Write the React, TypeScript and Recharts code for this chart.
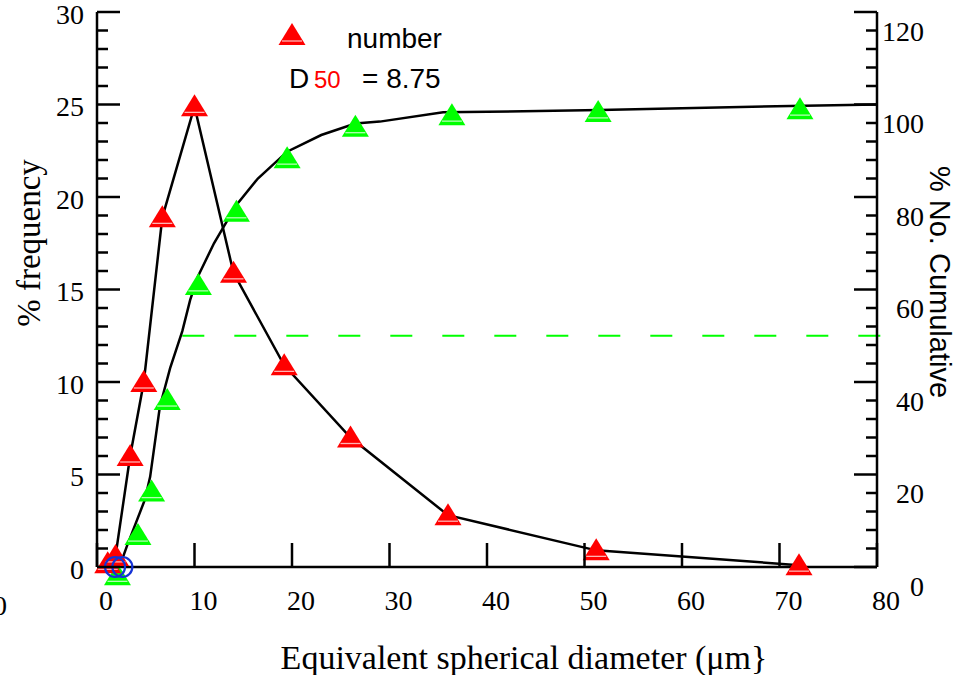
import React from 'react';
import { ComposedChart, Line, XAxis, YAxis, ReferenceLine, ReferenceDot } from 'recharts';

// tick values
const X_TICKS = [0, 10, 20, 30, 40, 50, 60, 70, 80];
const FREQ_TICKS = [0, 1, 2, 3, 4, 5, 6, 7, 8, 9, 10, 11, 12, 13, 14, 15, 16, 17, 18, 19, 20, 21, 22, 23, 24, 25, 26, 27, 28, 29, 30];
const CUM_TICKS = [0, 4, 8, 12, 16, 20, 24, 28, 32, 36, 40, 44, 48, 52, 56, 60, 64, 68, 72, 76, 80, 84, 88, 92, 96, 100, 104, 108, 112, 116, 120];

// % frequency (number), left axis
const numberFreq = [
  { x: 1.1, y: 0.2 },
  { x: 1.9, y: 0.6 },
  { x: 3.4, y: 6.0 },
  { x: 4.8, y: 10.0 },
  { x: 6.7, y: 18.9 },
  { x: 10.0, y: 24.9 },
  { x: 14.0, y: 15.9 },
  { x: 19.2, y: 10.9 },
  { x: 26.0, y: 7.0 },
  { x: 36.0, y: 2.8 },
  { x: 51.2, y: 0.9 },
  { x: 72.0, y: 0.1 },
];

// % No. cumulative, right axis
const cumulative = [
  { x: 2.1, y: -1.8 },
  { x: 4.2, y: 6.9 },
  { x: 5.6, y: 16.3 },
  { x: 7.2, y: 36.1 },
  { x: 10.4, y: 61.0 },
  { x: 14.3, y: 76.8 },
  { x: 19.5, y: 88.4 },
  { x: 26.5, y: 95.2 },
  { x: 36.4, y: 97.7 },
  { x: 51.4, y: 98.4 },
  { x: 72.1, y: 99.0 },
];

// fitted cumulative curve
const cumulativeFit = [
  { x: 2.3, y: 0 },
  { x: 3.05, y: 4.4 },
  { x: 4.9, y: 14.5 },
  { x: 5.45, y: 19.5 },
  { x: 6.45, y: 34.7 },
  { x: 7.5, y: 43.0 },
  { x: 8.75, y: 51.0 },
  { x: 9.55, y: 57.7 },
  { x: 10.35, y: 62.8 },
  { x: 12.0, y: 70.0 },
  { x: 14.3, y: 78.3 },
  { x: 16.5, y: 84.0 },
  { x: 19.5, y: 89.8 },
  { x: 23.0, y: 93.4 },
  { x: 26.5, y: 95.9 },
  { x: 29.0, y: 96.3 },
  { x: 35.5, y: 98.3 },
  { x: 51.6, y: 98.8 },
  { x: 71.1, y: 99.7 },
  { x: 80.0, y: 100 },
];

// blue open circles
const circles = [
  { x: 1.85, y: 0 },
  { x: 2.6, y: 0 },
];

const D50 = 8.75;
const D50_LEVEL = 50;
const D50_LINE_END = 80.8;

const X_TITLE = 'Equivalent spherical diameter (μm}';

const PL = 97;
const PR = 877;
const PB = 567;
const SERIF = '"Liberation Serif", "Times New Roman", serif';
const SANS = '"Liberation Sans", Arial, sans-serif';

const Triangle = ({ cx, cy, fill, pale }: any) => {
  if (cx == null || cy == null) return null;
  return (
    <g>
      <polygon points={`${cx},${cy - 12} ${cx - 13.5},${cy + 10} ${cx + 13.5},${cy + 10}`} fill={fill} />
      <line x1={cx - 10} x2={cx + 10} y1={cy + 6} y2={cy + 6} stroke={pale} strokeWidth={1.3} />
    </g>
  );
};

const redDot = (p: any) => <Triangle key={`r${p.index}`} cx={p.cx} cy={p.cy} fill="#ff0000" pale="#ffb3b3" />;

const leftTick = ({ y, payload }: any) => {
  const major = payload.value % 5 === 0;
  return (
    <g>
      <line x1={PL} x2={PL + (major ? 23 : 11)} y1={y} y2={y} stroke="#000" strokeWidth={2.5} />
      {major && (
        <text x={84} y={y + 2} dy="0.35em" textAnchor="end" fontFamily={SERIF} fontSize={28} fill="#000">
          {payload.value}
        </text>
      )}
    </g>
  );
};

const rightTick = ({ y, payload }: any) => {
  const major = payload.value % 20 === 0;
  return (
    <g>
      <line x1={PR} x2={PR - (major ? 23 : 11)} y1={y} y2={y} stroke="#000" strokeWidth={2.5} />
      {major && (
        <text x={924} y={y + 19} dy="0.35em" textAnchor="end" fontFamily={SERIF} fontSize={28} fill="#000">
          {payload.value}
        </text>
      )}
    </g>
  );
};

const bottomTick = ({ x, payload }: any) => (
  <g>
    <line x1={x} x2={x} y1={PB} y2={PB - 24} stroke="#000" strokeWidth={2.5} />
    <text x={x + 9} y={600} dy="0.35em" textAnchor="middle" fontFamily={SERIF} fontSize={28} fill="#000">
      {payload.value}
    </text>
  </g>
);

const axisLine = { stroke: '#000', strokeWidth: 2.5 };

export default function App() {
  return (
    <div style={{ position: 'absolute', left: 0, top: 0, width: 965, height: 675, background: '#fff' }}>
      <ComposedChart width={965} height={675} margin={{ top: 12, right: 0, bottom: 0, left: 0 }}>
        <XAxis
          xAxisId="x"
          dataKey="x"
          type="number"
          domain={[0, 80]}
          ticks={X_TICKS}
          interval={0}
          height={108}
          axisLine={axisLine}
          tickLine={false}
          tick={bottomTick}
        />
        <XAxis xAxisId="top" orientation="top" type="number" domain={[0, 80]} height={0} tick={false} tickLine={false} axisLine={axisLine} />
        <YAxis
          yAxisId="L"
          type="number"
          domain={[0, 30]}
          ticks={FREQ_TICKS}
          interval={0}
          width={97}
          axisLine={axisLine}
          tickLine={false}
          tick={leftTick}
        />
        <YAxis
          yAxisId="R"
          orientation="right"
          type="number"
          domain={[0, 120]}
          ticks={CUM_TICKS}
          interval={0}
          width={88}
          axisLine={axisLine}
          tickLine={false}
          tick={rightTick}
        />
        <ReferenceLine
          xAxisId="x"
          yAxisId="R"
          segment={[{ x: D50, y: D50_LEVEL }, { x: D50_LINE_END, y: D50_LEVEL }]}
          stroke="#00ff00"
          strokeWidth={2}
          strokeDasharray="22 30"
          ifOverflow="visible"
        />
        {cumulative.map((p, i) => (
          <ReferenceDot
            key={`c${i}`}
            xAxisId="x"
            yAxisId="R"
            x={p.x}
            y={p.y}
            ifOverflow="visible"
            shape={(s: any) => <Triangle cx={s.cx} cy={s.cy} fill="#00ff00" pale="#b3ffb3" />}
          />
        ))}
        <Line
          xAxisId="x"
          yAxisId="R"
          data={cumulativeFit}
          dataKey="y"
          type="linear"
          stroke="#000"
          strokeWidth={2.5}
          dot={false}
          isAnimationActive={false}
        />
        <Line
          xAxisId="x"
          yAxisId="L"
          data={numberFreq}
          dataKey="y"
          type="linear"
          stroke="#000"
          strokeWidth={2.5}
          dot={redDot}
          isAnimationActive={false}
        />
        <Line
          xAxisId="x"
          yAxisId="L"
          data={circles}
          dataKey="y"
          stroke="none"
          dot={{ r: 10, fill: 'none', stroke: '#1533d6', strokeWidth: 2.2 }}
          isAnimationActive={false}
        />
      </ComposedChart>
      <svg width={965} height={675} style={{ position: 'absolute', left: 0, top: 0, pointerEvents: 'none' }}>
        <text x={0} y={605} dy="0.35em" textAnchor="middle" fontFamily={SERIF} fontSize={28}>0</text>
        <text transform="translate(28,243) rotate(-90)" textAnchor="middle" dy="0.35em" fontFamily={SERIF} fontSize={33}>
          % frequency
        </text>
        <text x={524} y={657} dy="0.35em" textAnchor="middle" fontFamily={SERIF} fontSize={34}>
          {X_TITLE}
        </text>
        <text transform="translate(940,282) rotate(90)" textAnchor="middle" dy="0.35em" fontFamily={SANS} fontSize={29}>
          % No. Cumulative
        </text>
        <Triangle cx={292} cy={35} fill="#ff0000" pale="#ffb3b3" />
        <text x={347} y={48} fontFamily={SANS} fontSize={28}>number</text>
        <text x={289} y={88} fontFamily={SANS} fontSize={28}>D</text>
        <text x={314} y={88} fontFamily={SANS} fontSize={24} fill="#ff0000">50</text>
        <text x={362} y={88} fontFamily={SANS} fontSize={28}>= 8.75</text>
      </svg>
    </div>
  );
}
